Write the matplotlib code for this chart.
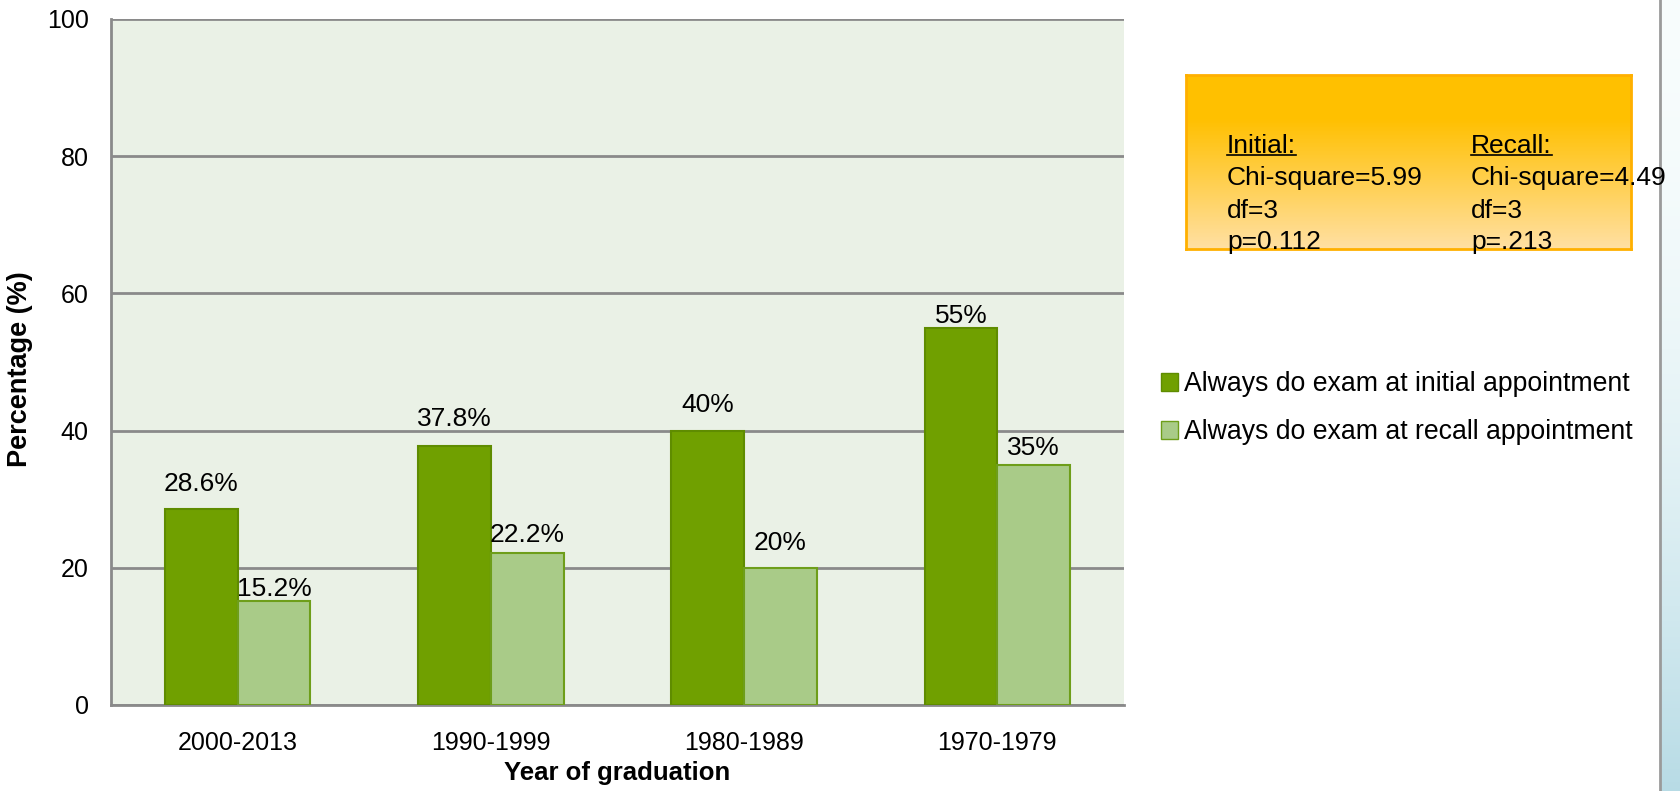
import numpy as np
import matplotlib
matplotlib.use("Agg")
import matplotlib.pyplot as plt
from matplotlib.patches import Patch
from matplotlib.lines import Line2D

plt.rcParams['font.family'] = ['Liberation Sans', 'DejaVu Sans']

# data
years = ["2000-2013", "1990-1999", "1980-1989", "1970-1979"]
initial = [28.6, 37.8, 40, 55]
recall = [15.2, 22.2, 20, 35]
series_names = ["Always do exam at initial appointment",
                "Always do exam at recall appointment"]
yticks = [0, 20, 40, 60, 80, 100]
stats_initial = ["Initial:", "Chi-square=5.99", "df=3", "p=0.112"]
stats_recall = ["Recall:", "Chi-square=4.49", "df=3", "p=.213"]

# label gaps above bar tops (px), as placed in the original
gap_initial = [25, 27, 26, 12]
gap_recall = [12, 18, 25, 17]

W, H = 1681, 791
fig = plt.figure(figsize=(W / 100, H / 100), dpi=100)

def px(x0, y0, x1, y1):
    # pixel box (top-left origin) -> figure fraction rect
    return [x0 / W, 1 - y1 / H, (x1 - x0) / W, (y1 - y0) / H]

ax = fig.add_axes(px(111, 19, 1124, 705))
ax.set_facecolor("#EAF1E6")

x = np.arange(len(years))
bw = 0.287
dark, light = "#70A000", "#A9CB88"
b1 = ax.bar(x - bw / 2, initial, bw, color=dark, edgecolor="#5F8C00", linewidth=1.5, zorder=3)
b2 = ax.bar(x + bw / 2, recall, bw, color=light, edgecolor="#6E9E1A", linewidth=1.5, zorder=3)

for bars, vals, gaps in [(b1, initial, gap_initial), (b2, recall, gap_recall)]:
    for b, v, g in zip(bars, vals, gaps):
        ax.annotate(f"{v:g}%", (b.get_x() + b.get_width() / 2, v),
                    xytext=(0, g * 0.72), textcoords="offset points",
                    ha="center", va="center", fontsize=19)

ax.set_xlim(-0.5, len(years) - 0.5)
ax.set_ylim(0, 100)
ax.set_yticks(yticks)
ax.set_xticks(x)
ax.set_xticklabels(years)
ax.tick_params(axis="y", length=0, pad=16, labelsize=18)
ax.tick_params(axis="x", length=0, pad=19, labelsize=18)
ax.yaxis.grid(True, color="#8A8A8A", linewidth=2, zorder=1)
ax.set_axisbelow(True)
for s in ["top", "right"]:
    ax.spines[s].set_visible(False)
for s in ["left", "bottom"]:
    ax.spines[s].set_color("#8A8A8A")
    ax.spines[s].set_linewidth(2)

ax.set_xlabel("Year of graduation", fontsize=18.5, fontweight="bold")
ax.set_ylabel("Percentage (%)", fontsize=19.5, fontweight="bold")
ax.xaxis.set_label_coords(0.5, -0.0816)
ax.yaxis.set_label_coords(-0.077, 0.49)

# legend
handles = [Patch(facecolor=dark, edgecolor="#5F8C00"),
           Patch(facecolor=light, edgecolor="#6E9E1A")]
fig.legend(handles, series_names, loc="upper left",
           bbox_to_anchor=(1161 / W, 1 - 371 / H), frameon=False,
           fontsize=19.2, handlelength=0.65, handleheight=0.65,
           handletextpad=0.2, labelspacing=0.84, borderpad=0, borderaxespad=0)

# orange stats box with gradient
bax = fig.add_axes(px(1186, 75, 1631, 249))
grad = np.linspace(0, 1, 256).reshape(-1, 1)
top = np.array([1.0, 0.753, 0.0])
bot = np.array([1.0, 0.878, 0.64])
img = top + (bot - top) * np.clip((grad - 0.25) / 0.75, 0, 1)[..., None]
bax.imshow(img.reshape(256, 1, 3), aspect="auto", extent=[0, 1, 0, 1])
bax.set_xticks([])
bax.set_yticks([])
for s in bax.spines.values():
    s.set_color("#FFB000")
    s.set_linewidth(2)

row_y = [146, 178, 211, 242]
texts = []
for col_x, lines in [(1227, stats_initial), (1471, stats_recall)]:
    for i, (ty, txt) in enumerate(zip(row_y, lines)):
        t = fig.text(col_x / W, 1 - ty / H, txt, fontsize=19, va="center", ha="left", zorder=10)
        if i == 0:
            texts.append(t)

fig.canvas.draw()
r = fig.canvas.get_renderer()
for t in texts:
    bb = t.get_window_extent(r)
    yl = bb.y0 + 3
    fig.add_artist(Line2D([bb.x0 / W, bb.x1 / W], [yl / H, yl / H], color="black", linewidth=1.2))

# slide edge decoration
fig.add_artist(Line2D([1660 / W, 1660 / W], [0, 1], color="#9A9A9A", linewidth=2))
dax = fig.add_axes(px(1661.5, 0, W, H))
g = np.linspace(0, 1, 256).reshape(-1, 1)
c_top = np.array([0.97, 0.99, 0.99])
c_bot = np.array([0.72, 0.86, 0.90])
dimg = c_top + (c_bot - c_top) * (g ** 2)[..., None]
dax.imshow(dimg.reshape(256, 1, 3), aspect="auto", extent=[0, 1, 0, 1])
dax.axis("off")

fig.savefig("out.png", dpi=100)
